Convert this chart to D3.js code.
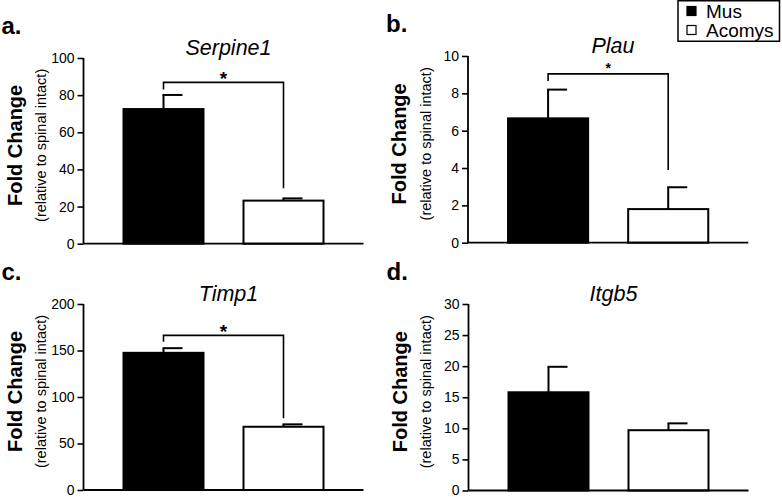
<!DOCTYPE html>
<html><head><meta charset="utf-8">
<script src="https://cdn.jsdelivr.net/npm/d3@7/dist/d3.min.js"></script>
<style>
html,body{margin:0;padding:0;background:#fff;}
svg{display:block;font-family:"Liberation Sans",Arial,sans-serif;}
</style></head>
<body>
<script>
// ---- data ----
const groups = ["Mus", "Acomys"];
const genes = ["Serpine1", "Plau", "Timp1", "Itgb5"];
const panelLetters = ["a.", "b.", "c.", "d."];
const means = [[72.5, 23.2], [6.66, 1.8], [147.5, 68], [15.8, 9.7]];
const sems = [[7.6, 1.2], [1.54, 1.17], [5, 2.6], [4.1, 1.1]];
const yMax = [100, 10, 200, 30];
const yTicks = [[0,20,40,60,80,100],[0,2,4,6,8,10],[0,50,100,150,200],[0,5,10,15,20,25,30]];
// significance brackets: [bracket level, left drop end, right drop end] in data units (null = none)
const brackets = [[86.9, 83.1, 29.8], [9.04, 8.66, 3.89], [166.3, 159.5, 77.1], null];
const sigLabel = "*";
const yLabel = "Fold Change";
const ySubLabel = "(relative to spinal intact)";

// ---- layout ----
const W = 782, H = 497;
const svg = d3.select("body").append("svg").attr("width", W).attr("height", H);
const frames = [
  {x0: 83.5, x1: 363.5, yTop: 58, yBot: 243.7, star: 19},
  {x0: 468, x1: 748.3, yTop: 56, yBot: 242.7, star: 14},
  {x0: 83.5, x1: 363.5, yTop: 304, yBot: 490, star: 19},
  {x0: 468.5, x1: 748.5, yTop: 304, yBot: 490.5, star: 19}
];
const fills = {Mus: "#000", Acomys: "#fff"};

genes.forEach((g, i) => {
  const f = frames[i];
  const x = d3.scaleBand().domain(groups).range([f.x0, f.x1]).paddingInner(1/3).paddingOuter(1/3);
  const y = d3.scaleLinear().domain([0, yMax[i]]).range([f.yBot, f.yTop]);
  const p = svg.append("g");

  // bars
  groups.forEach((grp, j) => {
    const v = means[i][j], e = sems[i][j];
    const cx = x(grp) + x.bandwidth() / 2;
    p.append("line").attr("x1", cx).attr("x2", cx).attr("y1", y(v)).attr("y2", y(v + e))
      .attr("stroke", "#000").attr("stroke-width", 2);
    p.append("line").attr("x1", cx - 1).attr("x2", cx + 19).attr("y1", y(v + e)).attr("y2", y(v + e))
      .attr("stroke", "#000").attr("stroke-width", 2);
    p.append("rect").attr("x", x(grp)).attr("y", y(v)).attr("width", x.bandwidth())
      .attr("height", y(0) - y(v)).attr("fill", fills[grp]).attr("stroke", "#000").attr("stroke-width", 2);
  });

  // axes
  const ya = p.append("g").attr("transform", `translate(${f.x0},0)`)
    .call(d3.axisLeft(y).tickValues(yTicks[i]).tickSize(6).tickPadding(3).tickFormat(d3.format("d")));
  ya.select(".domain").attr("stroke-width", 1.8).attr("d", `M0,${f.yTop}V${f.yBot}`);
  ya.selectAll(".tick line").attr("stroke-width", 1.6);
  ya.selectAll(".tick text").attr("font-size", 14).attr("font-family", "Liberation Sans, Arial, sans-serif").attr("fill", "#000");
  p.append("line").attr("x1", f.x0).attr("x2", f.x1).attr("y1", f.yBot).attr("y2", f.yBot)
    .attr("stroke", "#000").attr("stroke-width", 1.8);

  // bracket
  const b = brackets[i];
  if (b) {
    const lx = x(groups[0]) + x.bandwidth() / 2, rx = x(groups[1]) + x.bandwidth() / 2;
    p.append("path").attr("d", `M${lx},${y(b[1])}V${y(b[0])}H${rx}V${y(b[2])}`)
      .attr("fill", "none").attr("stroke", "#000").attr("stroke-width", 1.6);
    p.append("text").attr("x", (lx + rx) / 2).attr("y", y(b[0]) - 8.5 + f.star * 0.57)
      .attr("text-anchor", "middle").attr("font-size", f.star).attr("font-weight", "bold")
      .attr("fill", "#000").text(sigLabel);
  }

  // title
  p.append("text").attr("x", f.x0 + 145).attr("y", f.yTop - 3).attr("text-anchor", "middle")
    .attr("font-size", 21.5).attr("font-style", "italic").attr("fill", "#000").text(g);

  // panel letter
  p.append("text").attr("x", f.x0 - 82).attr("y", f.yTop - 24).attr("font-size", 24)
    .attr("font-weight", "bold").attr("fill", "#000").text(panelLetters[i]);

  // y labels
  const cy = (f.yTop + f.yBot) / 2 - 5.5;
  p.append("text").attr("transform", `translate(${f.x0 - 62},${cy}) rotate(-90)`)
    .attr("text-anchor", "middle").attr("font-size", 20).attr("font-weight", "bold").attr("fill", "#000").text(yLabel);
  p.append("text").attr("transform", `translate(${f.x0 - 37.5},${cy}) rotate(-90)`)
    .attr("text-anchor", "middle").attr("font-size", 14.5).attr("fill", "#000").text(ySubLabel);
});

// legend
const lg = svg.append("g");
lg.append("rect").attr("x", 678).attr("y", 0.75).attr("width", 101.5).attr("height", 40.5)
  .attr("fill", "#fff").attr("stroke", "#000").attr("stroke-width", 1.5);
groups.forEach((grp, j) => {
  lg.append("rect").attr("x", 687).attr("y", 6.5 + j * 19).attr("width", 9).attr("height", 9)
    .attr("fill", fills[grp]).attr("stroke", "#000").attr("stroke-width", 1.2);
  lg.append("text").attr("x", 706).attr("y", 17.5 + j * 19).attr("font-size", 19).attr("fill", "#000").text(grp);
});
</script>
</body></html>
